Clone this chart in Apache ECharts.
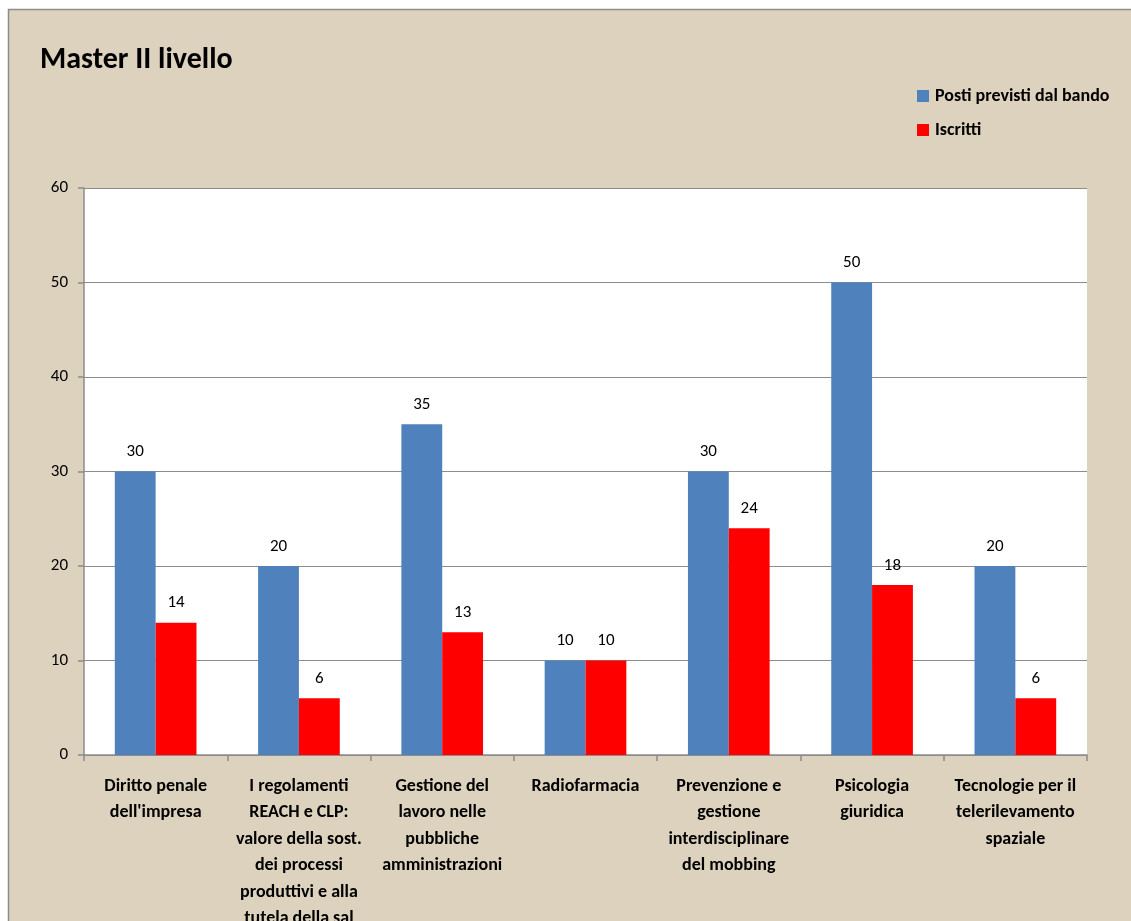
<!DOCTYPE html>
<html>
<head>
<meta charset="utf-8">
<script src="https://cdn.jsdelivr.net/npm/echarts@6/dist/echarts.min.js"></script>
<style>
html,body{margin:0;padding:0;background:#fff;}
#c{width:1131px;height:921px;}
</style>
</head>
<body>
<div id="c"></div>
<script>
const categories = [
  "Diritto penale\ndell'impresa",
  "I regolamenti\nREACH e CLP:\nvalore della sost.\ndei processi\nproduttivi e alla\ntutela della sal",
  "Gestione del\nlavoro nelle\npubbliche\namministrazioni",
  "Radiofarmacia",
  "Prevenzione e\ngestione\ninterdisciplinare\ndel mobbing",
  "Psicologia\ngiuridica",
  "Tecnologie per il\ntelerilevamento\nspaziale"
];
const postiPrevisti = [30, 20, 35, 10, 30, 50, 20];
const iscritti = [14, 6, 13, 10, 24, 18, 6];
const yTicks = { min: 0, max: 60, interval: 10 };

const FONT = "Carlito, Lato, 'Liberation Sans', sans-serif";
const chart = echarts.init(document.getElementById('c'), null, {renderer: 'canvas'});
chart.setOption({
  backgroundColor: '#ffffff',
  animation: false,
  textStyle: { fontFamily: FONT },
  graphic: [{
    type: 'rect', z: -10, silent: true,
    shape: { x: 8.5, y: 9.5, width: 1140, height: 930 },
    style: { fill: '#ddd2bd', stroke: '#8c8c8c', lineWidth: 1.5 }
  }],
  title: {
    text: 'Master II livello',
    left: 35, top: 40,
    textStyle: { fontFamily: FONT, fontSize: 30, fontWeight: 'bold', color: '#000' }
  },
  legend: {
    orient: 'vertical',
    left: 912, top: 82,
    itemWidth: 12, itemHeight: 12, itemGap: 16,
    icon: 'rect',
    textStyle: { fontFamily: FONT, fontSize: 18, fontWeight: 'bold', color: '#000', padding: [0,0,0,1] },
    data: ['Posti previsti dal bando', 'Iscritti']
  },
  grid: {
    left: 84, top: 188, right: 44, bottom: 166,
    outerBoundsMode: 'none', containLabel: false,
    show: true, backgroundColor: '#ffffff', borderWidth: 0
  },
  xAxis: {
    type: 'category',
    data: categories,
    axisLine: { lineStyle: { color: '#8c8c8c', width: 1.5 } },
    axisTick: { show: true, length: 6, interval: 0, lineStyle: { color: '#8c8c8c', width: 1.5 } },
    axisLabel: {
      interval: 0, margin: 18, color: '#000',
      fontFamily: FONT, fontSize: 18, fontWeight: 'bold', lineHeight: 26.5
    }
  },
  yAxis: {
    type: 'value',
    min: yTicks.min, max: yTicks.max, interval: yTicks.interval,
    axisLine: { show: true, lineStyle: { color: '#8c8c8c', width: 1.5 } },
    axisTick: { show: true, length: 6, lineStyle: { color: '#8c8c8c', width: 1.5 } },
    splitLine: { show: true, lineStyle: { color: '#8c8c8c', width: 1.2 } },
    axisLabel: { margin: 16, color: '#000', fontFamily: FONT, fontSize: 17 }
  },
  series: [
    {
      name: 'Posti previsti dal bando', type: 'bar', data: postiPrevisti,
      itemStyle: { color: '#4f81bd' },
      barGap: '0%', barCategoryGap: '43%',
      label: { show: true, position: 'top', distance: 11, color: '#000', fontFamily: FONT, fontSize: 17 }
    },
    {
      name: 'Iscritti', type: 'bar', data: iscritti,
      itemStyle: { color: '#ff0000' },
      barGap: '0%', barCategoryGap: '43%',
      label: { show: true, position: 'top', distance: 11, color: '#000', fontFamily: FONT, fontSize: 17 }
    }
  ]
});
</script>
</body>
</html>
